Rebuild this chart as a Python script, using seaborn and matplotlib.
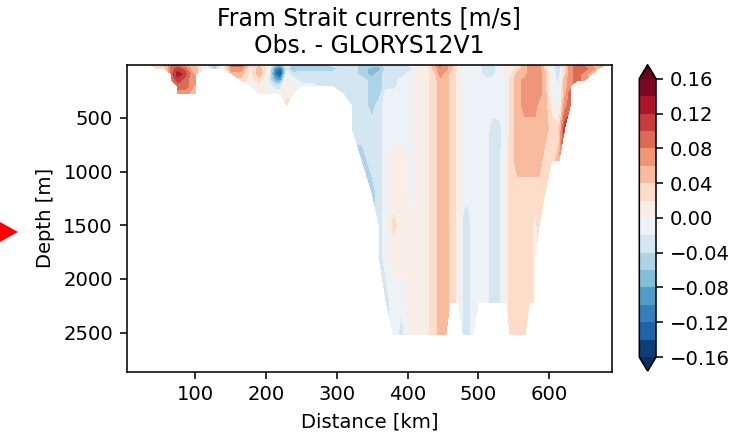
import numpy as np
import matplotlib
matplotlib.use("Agg")
import matplotlib.pyplot as plt
import seaborn as sns
from matplotlib.patches import Polygon

N = np.nan

# Section distance (km) of each profile
distance_km = [33, 45, 57, 66, 75, 85, 95, 100, 115, 128,
               140, 152, 165, 178, 190, 202, 212, 220, 229, 238,
               250, 265, 280, 295, 310, 322, 336, 350, 360, 370,
               380, 392, 404, 416, 428, 438, 446, 454, 460, 466,
               472, 479, 486, 492, 500, 510, 520, 530, 540, 545,
               556, 566, 572, 580, 586, 594, 604, 614, 622, 630,
               640, 650, 660, 670, 680, 688]

# Depth levels (m)
depth_m = [2, 40, 90, 150, 200, 270, 380, 600, 900, 1200, 1500, 1800, 2224, 2522]

# Velocity difference (m/s) along each depth level
v_0002 = [0.01, 0.03, 0.05, 0.07, 0.07, 0.05, 0.03, 0.03, -0.01, -0.07,
          0.01, 0.09, 0.09, 0.03, 0.03, 0.01, -0.05, -0.07, -0.01, -0.05,
          -0.05, -0.05, -0.05, -0.03, -0.03, -0.03, -0.05, -0.05, -0.05, -0.03,
          -0.03, -0.03, -0.01, 0.01, 0.01, 0.05, 0.09, 0.07, 0.05, 0.03,
          0.01, 0.01, -0.01, -0.01, -0.01, -0.03, -0.03, -0.01, 0.01, 0.01,
          0.03, 0.05, 0.07, 0.07, 0.07, 0.03, -0.01, -0.05, 0.03, 0.07,
          0.09, 0.07, 0.05, 0.05, 0.03, N]
v_0040 = [N, 0.03, 0.03, 0.09, 0.11, 0.09, 0.05, 0.05, -0.01, -0.05,
          0.01, 0.07, 0.07, 0.01, 0.05, 0.01, -0.09, -0.13, -0.03, -0.07,
          -0.05, -0.05, -0.05, -0.05, -0.03, -0.03, -0.05, -0.07, -0.07, -0.03,
          -0.03, -0.03, -0.03, 0.01, 0.01, 0.05, 0.07, 0.07, 0.05, 0.03,
          0.01, -0.01, -0.01, -0.01, -0.01, -0.03, -0.03, -0.01, 0.01, 0.01,
          0.03, 0.05, 0.07, 0.07, 0.07, 0.03, -0.01, -0.05, 0.03, 0.07,
          0.09, 0.09, 0.07, 0.05, N, N]
v_0090 = [N, N, N, 0.09, 0.13, 0.11, 0.07, 0.05, N, N,
          N, 0.05, 0.05, 0.01, 0.05, 0.01, -0.11, -0.15, -0.01, -0.03,
          -0.03, -0.03, -0.03, -0.03, -0.03, -0.03, -0.05, -0.07, -0.05, -0.03,
          -0.03, -0.03, -0.01, 0.01, 0.01, 0.03, 0.07, 0.05, 0.035, 0.025,
          0.01, -0.01, -0.01, -0.01, -0.01, -0.03, -0.03, -0.01, 0.01, 0.01,
          0.05, 0.05, 0.07, 0.07, 0.07, 0.05, -0.01, -0.03, 0.03, 0.07,
          0.09, 0.07, 0.05, N, N, N]
v_0150 = [N, N, N, 0.07, 0.11, 0.09, 0.07, 0.07, N, N,
          N, N, 0.03, 0.01, 0.03, -0.01, -0.07, -0.09, 0.01, -0.01,
          -0.03, -0.03, -0.03, -0.03, -0.03, -0.03, -0.03, -0.05, -0.05, -0.03,
          -0.03, -0.01, -0.01, 0.01, 0.015, 0.03, 0.05, 0.05, 0.035, 0.025,
          0.01, -0.01, -0.01, -0.01, -0.01, -0.01, -0.01, -0.01, -0.01, 0.03,
          0.05, 0.07, 0.07, 0.07, 0.07, 0.05, -0.01, -0.03, 0.05, 0.07,
          0.09, 0.07, N, N, N, N]
v_0200 = [N, N, N, N, 0.09, 0.09, 0.07, 0.05, N, N,
          N, N, N, -0.01, 0.01, -0.01, -0.03, -0.03, 0.01, -0.01,
          -0.01, -0.01, -0.03, -0.03, -0.03, -0.03, -0.03, -0.05, -0.05, -0.03,
          -0.03, -0.01, -0.01, 0.01, 0.015, 0.03, 0.05, 0.05, 0.035, 0.025,
          0.01, -0.01, -0.01, -0.01, -0.01, -0.01, -0.01, -0.01, -0.01, 0.03,
          0.05, 0.07, 0.07, 0.07, 0.07, 0.05, -0.01, -0.01, 0.05, 0.07,
          N, N, N, N, N, N]
v_0270 = [N, N, N, N, 0.07, 0.07, 0.05, 0.05, N, N,
          N, N, N, N, 0.01, 0.01, -0.01, -0.01, 0.01, 0.01,
          N, N, N, N, -0.03, -0.03, -0.03, -0.05, -0.05, -0.01,
          -0.01, -0.01, -0.01, 0.01, 0.015, 0.03, 0.05, 0.05, 0.035, 0.025,
          0.01, -0.01, -0.01, -0.01, -0.01, -0.01, -0.01, -0.01, -0.01, 0.03,
          0.05, 0.07, 0.07, 0.07, 0.07, 0.05, -0.01, -0.01, 0.05, 0.09,
          N, N, N, N, N, N]
v_0380 = [N, N, N, N, N, N, N, N, N, N,
          N, N, N, N, N, N, N, N, 0.03, N,
          N, N, N, N, N, -0.03, -0.03, -0.05, -0.03, -0.01,
          -0.01, -0.01, -0.01, 0.01, 0.015, 0.03, 0.05, 0.05, 0.035, 0.025,
          0.01, -0.01, -0.01, -0.01, -0.01, -0.01, -0.01, -0.01, -0.01, 0.03,
          0.05, 0.07, 0.07, 0.07, 0.05, 0.05, 0.01, -0.01, 0.07, 0.09,
          N, N, N, N, N, N]
v_0600 = [N, N, N, N, N, N, N, N, N, N,
          N, N, N, N, N, N, N, N, N, N,
          N, N, N, N, N, -0.03, -0.03, -0.03, -0.03, -0.01,
          -0.01, -0.01, -0.01, 0.01, 0.015, 0.03, 0.05, 0.05, 0.035, 0.025,
          0.01, -0.01, -0.01, -0.01, -0.01, -0.01, -0.03, -0.025, -0.01, 0.03,
          0.05, 0.05, 0.05, 0.05, 0.05, 0.05, 0.03, 0.03, 0.11, N,
          N, N, N, N, N, N]
v_0900 = [N, N, N, N, N, N, N, N, N, N,
          N, N, N, N, N, N, N, N, N, N,
          N, N, N, N, N, N, -0.05, -0.03, -0.03, -0.01,
          0.01, 0.01, -0.01, 0.01, 0.015, 0.03, 0.05, 0.05, 0.035, 0.025,
          0.01, -0.01, -0.01, -0.01, -0.01, -0.01, -0.03, -0.025, 0.01, 0.03,
          0.05, 0.05, 0.05, 0.05, 0.05, 0.03, 0.03, 0.05, N, N,
          N, N, N, N, N, N]
v_1200 = [N, N, N, N, N, N, N, N, N, N,
          N, N, N, N, N, N, N, N, N, N,
          N, N, N, N, N, N, N, -0.05, -0.03, -0.01,
          0.01, 0.01, -0.01, 0.01, 0.015, 0.03, 0.05, 0.05, 0.035, 0.025,
          0.01, -0.01, -0.015, -0.01, -0.01, -0.01, -0.03, -0.025, 0.01, 0.03,
          0.03, 0.03, 0.03, 0.03, 0.03, 0.03, N, N, N, N,
          N, N, N, N, N, N]
v_1500 = [N, N, N, N, N, N, N, N, N, N,
          N, N, N, N, N, N, N, N, N, N,
          N, N, N, N, N, N, N, N, -0.03, -0.01,
          0.025, 0.01, 0.01, 0.01, 0.015, 0.03, 0.05, 0.05, 0.035, 0.025,
          0.01, -0.03, -0.03, -0.01, -0.01, -0.01, -0.03, -0.025, 0.01, 0.03,
          0.03, 0.03, 0.03, 0.01, 0.03, N, N, N, N, N,
          N, N, N, N, N, N]
v_1800 = [N, N, N, N, N, N, N, N, N, N,
          N, N, N, N, N, N, N, N, N, N,
          N, N, N, N, N, N, N, N, -0.03, -0.01,
          0.01, 0.01, 0.01, 0.01, 0.015, 0.03, 0.05, 0.05, 0.035, 0.025,
          0.01, -0.03, -0.03, -0.01, -0.01, -0.01, -0.03, -0.025, 0.01, 0.03,
          0.03, 0.03, 0.03, 0.01, N, N, N, N, N, N,
          N, N, N, N, N, N]
v_2224 = [N, N, N, N, N, N, N, N, N, N,
          N, N, N, N, N, N, N, N, N, N,
          N, N, N, N, N, N, N, N, N, -0.03,
          -0.01, -0.015, 0.01, 0.01, 0.015, 0.03, 0.05, 0.05, 0.035, 0.025,
          0.01, -0.03, -0.03, -0.01, -0.01, -0.01, -0.03, -0.025, 0.01, 0.03,
          0.03, 0.03, 0.03, 0.01, N, N, N, N, N, N,
          N, N, N, N, N, N]
v_2522 = [N, N, N, N, N, N, N, N, N, N,
          N, N, N, N, N, N, N, N, N, N,
          N, N, N, N, N, N, N, N, N, N,
          -0.01, -0.03, 0.01, 0.01, 0.015, 0.03, 0.05, 0.05, N, N,
          N, -0.03, -0.03, -0.01, N, N, N, N, N, 0.03,
          0.03, 0.03, N, N, N, N, N, N, N, N,
          N, N, N, N, N, N]

levels = [-0.16, -0.14, -0.12, -0.10, -0.08, -0.06, -0.04, -0.02, 0.0,
          0.02, 0.04, 0.06, 0.08, 0.10, 0.12, 0.14, 0.16]
cbar_ticks = [-0.16, -0.12, -0.08, -0.04, 0.0, 0.04, 0.08, 0.12, 0.16]
x_ticks = [100, 200, 300, 400, 500, 600]
y_ticks = [500, 1000, 1500, 2000, 2500]

field = np.ma.masked_invalid(np.array(
    [v_0002, v_0040, v_0090, v_0150, v_0200, v_0270, v_0380,
     v_0600, v_0900, v_1200, v_1500, v_1800, v_2224, v_2522], dtype=float))

W, H, DPI = 738, 435, 141
fig = plt.figure(figsize=(W / DPI, H / DPI), dpi=DPI)

ax_l, ax_r, ax_t, ax_b = 126.7, 612.0, 64.5, 371.7
ax = fig.add_axes([ax_l / W, (H - ax_b) / H, (ax_r - ax_l) / W, (ax_b - ax_t) / H])

cmap = sns.color_palette("RdBu_r", as_cmap=True)
cf = ax.contourf(distance_km, depth_m, field, levels=levels, cmap=cmap, extend="both")

ax.set_xlim(3, 689)
ax.set_ylim(2865, 2)
ax.set_xticks(x_ticks)
ax.set_yticks(y_ticks)
ax.set_xlabel("Distance [km]")
ax.set_ylabel("Depth [m]")
ax.set_title("Fram Strait currents [m/s]\nObs. - GLORYS12V1")

cax = fig.add_axes([639.3 / W, (H - 371.0) / H, 16.7 / W, (371.0 - 64.8) / H])
fig.colorbar(cf, cax=cax, ticks=cbar_ticks)

tri = Polygon([[0 / W, (H - 222) / H], [18 / W, (H - 232) / H], [0 / W, (H - 242) / H]],
              closed=True, transform=fig.transFigure, facecolor="red", edgecolor="none")
fig.add_artist(tri)

fig.savefig("out.png", dpi=DPI)
